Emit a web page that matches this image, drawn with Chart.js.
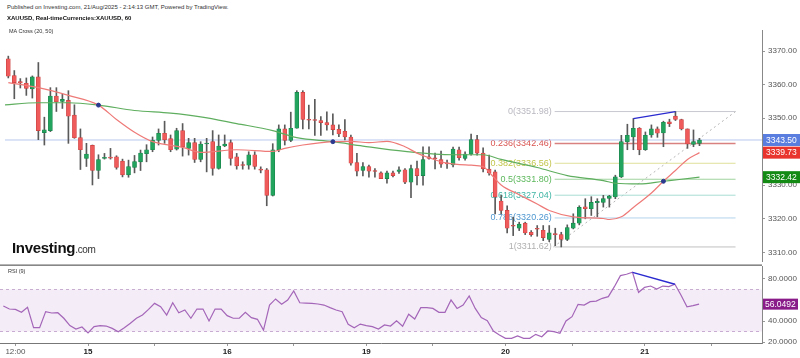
<!DOCTYPE html>
<html>
<head>
<meta charset="utf-8">
<script src="https://cdn.jsdelivr.net/npm/chart.js@4.4.0/dist/chart.umd.min.js"></script>
<style>
  body { margin: 0; width: 800px; height: 358px; background: #fff; position: relative; overflow: hidden; font-family: "Liberation Sans", Arial, sans-serif; }
  .txt { position: absolute; white-space: nowrap; color: #333; line-height: 1; }
  #topBox { position: absolute; left: 0; top: 25px; width: 800px; height: 241px; }
  #botBox { position: absolute; left: 0; top: 266px; width: 800px; height: 92px; }
</style>
</head>
<body>
<div id="topBox"><canvas id="priceChart" width="800" height="241"></canvas></div>
<div id="botBox"><canvas id="rsiChart" width="800" height="92"></canvas></div>
<div class="txt" style="left:7px;top:4px;font-size:6px;">Published on Investing.com, 21/Aug/2025 - 2:14:13 GMT, Powered by TradingView.</div>
<div class="txt" style="left:7px;top:15px;font-size:6px;font-weight:bold;color:#111;">XAUUSD, Real-timeCurrencies:XAUUSD, 60</div>
<div class="txt" style="left:9px;top:29px;font-size:5.5px;">MA Cross (20, 50)</div>
<div class="txt" style="left:12px;top:240px;font-size:15px;font-weight:bold;color:#111;letter-spacing:-0.3px;">Investing<span style="font-size:10px;font-weight:normal;color:#333;">.com</span></div>
<div class="txt" style="left:8px;top:269px;font-size:5.5px;">RSI (9)</div>
<script>
// hourly candles, index 0..115
const opens = [3367.7,3362.7,3360.9,3360.4,3358.7,3362.3,3345.7,3346.3,3356.6,3355.0,
  3355.3,3350.9,3344.2,3338.0,3341.9,3334.4,3338.0,3338.3,3338.5,3337.2,
  3333.1,3335.3,3337.0,3339.4,3340.6,3343.4,3345.5,3343.9,3340.8,3346.3,
  3341.0,3342.7,3337.7,3342.3,3343.0,3335.0,3341.7,3342.7,3338.5,3336.2,
  3336.0,3339.1,3334.8,3334.6,3327.0,3340.6,3346.8,3343.4,3347.0,3357.7,
  3349.6,3349.6,3349.3,3348.7,3348.0,3346.7,3346.1,3344.4,3336.8,3334.4,
  3335.6,3334.3,3333.7,3332.0,3333.7,3334.1,3334.6,3330.9,3335.0,3332.9,
  3338.5,3338.1,3337.7,3336.6,3336.1,3340.6,3338.0,3339.3,3343.6,3339.6,
  3334.8,3334.0,3325.3,3322.5,3318.0,3317.2,3318.7,3316.0,3317.1,3316.6,
  3313.9,3315.6,3315.3,3313.9,3317.2,3318.7,3323.6,3323.0,3324.8,3324.9,
  3326.1,3326.5,3332.5,3343.0,3344.4,3347.0,3340.6,3345.0,3346.8,3345.6,
  3348.9,3350.6,3349.6,3346.8,3342.2,3342.5];
const highs = [3368.5,3364.2,3361.8,3362.0,3362.6,3366.6,3350.3,3359.1,3359.1,3357.2,
  3358.2,3354.0,3346.8,3342.5,3342.0,3339.1,3339.5,3341.0,3338.8,3337.8,
  3337.5,3338.9,3340.5,3342.1,3344.4,3346.8,3349.1,3345.0,3347.0,3348.4,
  3344.0,3344.0,3343.0,3344.0,3346.3,3345.0,3345.0,3343.5,3339.5,3337.0,
  3340.0,3340.0,3335.5,3335.0,3342.4,3348.0,3348.0,3351.8,3358.2,3358.2,
  3353.9,3355.6,3350.5,3351.9,3351.3,3348.0,3349.6,3345.0,3339.5,3336.8,
  3336.0,3335.0,3334.0,3334.2,3334.2,3335.5,3335.0,3336.0,3337.2,3341.5,
  3341.5,3339.6,3340.2,3337.5,3341.4,3341.4,3340.0,3345.3,3344.9,3341.2,
  3339.0,3334.5,3327.0,3323.9,3320.5,3319.0,3319.0,3316.5,3318.0,3318.0,
  3318.0,3317.2,3316.0,3318.2,3321.5,3323.9,3326.0,3326.6,3326.0,3327.0,
  3327.0,3333.0,3344.9,3348.2,3349.9,3347.2,3345.9,3348.0,3347.4,3349.1,
  3349.7,3351.98,3349.7,3346.8,3346.5,3344.0];
const lows = [3362.0,3355.8,3359.0,3356.8,3356.0,3343.6,3342.0,3346.0,3352.0,3352.9,
  3342.5,3344.0,3334.7,3335.6,3330.1,3332.0,3337.8,3337.8,3334.8,3332.5,
  3332.4,3333.7,3334.4,3337.0,3340.0,3342.0,3342.5,3340.0,3340.5,3338.7,
  3339.0,3336.8,3337.0,3334.0,3333.0,3334.8,3341.5,3336.0,3334.8,3334.8,
  3334.8,3334.8,3333.7,3323.9,3326.8,3340.0,3342.0,3343.0,3347.0,3346.8,
  3346.8,3344.9,3344.9,3346.4,3345.0,3344.5,3343.5,3336.0,3332.8,3332.8,
  3332.4,3332.4,3332.0,3330.6,3332.5,3333.5,3330.5,3326.3,3330.1,3330.0,
  3337.8,3334.9,3335.3,3335.0,3335.5,3337.5,3337.5,3339.0,3339.0,3334.0,
  3333.0,3321.5,3321.5,3315.8,3315.0,3316.5,3315.3,3314.8,3314.8,3313.5,
  3313.2,3312.0,3311.62,3313.5,3317.0,3318.2,3320.0,3321.0,3320.6,3323.5,
  3323.5,3326.0,3332.3,3340.6,3340.6,3339.1,3340.4,3344.3,3344.3,3341.5,
  3347.5,3349.3,3346.5,3341.0,3341.5,3341.8];
const closes = [3362.5,3360.6,3360.5,3358.9,3362.3,3346.3,3346.5,3356.6,3354.9,3355.6,
  3350.6,3344.2,3340.6,3339.3,3334.4,3337.7,3338.3,3338.1,3335.3,3333.1,
  3335.6,3337.1,3339.6,3340.6,3343.4,3345.5,3343.6,3340.6,3346.3,3341.5,
  3342.7,3337.7,3342.3,3342.6,3335.0,3341.7,3342.3,3338.0,3335.8,3335.9,
  3339.1,3335.6,3334.5,3327.0,3340.6,3346.8,3343.4,3347.0,3357.7,3349.6,
  3349.4,3349.3,3348.7,3348.0,3346.6,3345.3,3344.4,3336.6,3334.2,3335.6,
  3334.2,3334.1,3332.0,3333.7,3332.9,3334.6,3330.9,3335.0,3332.9,3337.7,
  3338.0,3337.9,3336.3,3336.4,3340.8,3338.2,3339.3,3343.6,3339.6,3334.9,
  3333.7,3326.5,3322.5,3317.2,3317.8,3318.4,3315.8,3315.3,3316.9,3314.4,
  3315.8,3315.3,3313.9,3317.4,3318.7,3323.4,3323.0,3324.9,3325.2,3326.0,
  3326.8,3332.5,3343.0,3344.9,3347.0,3340.6,3344.9,3346.8,3345.5,3348.8,
  3348.4,3349.6,3346.8,3342.3,3343.0,3343.5];

// moving averages read at sample candles
const ma20Idx = [0,5,10,15,18,21,24,26,29,32,38,44,46,49,54,57,60,63,66,68,70,73,77,79,80,82,85,88,90,94,99,100,102,104,107,109,111,113,115];
const ma20 = [3360.6,3359.1,3356.8,3353.9,3349.6,3345.8,3343.0,3342.2,3341.3,3339.8,3340.6,3340.1,3341.0,3342.0,3343.0,3343.1,3342.7,3343.1,3341.5,3339.6,3338.2,3336.6,3336.0,3335.6,3333.9,3330.1,3327.2,3324.4,3322.5,3320.6,3320.1,3319.8,3320.6,3323.4,3327.7,3331.2,3334.4,3337.7,3339.73];
const ma50Idx = [-1,5,10,15,21,27,32,38,44,48,54,59,66,74,79,82,88,93,99,101,105,109,112,115];
const ma50 = [3353.9,3354.6,3354.6,3353.9,3352.3,3351.5,3350.4,3348.4,3346.3,3344.2,3343.0,3341.7,3340.1,3339.1,3339.1,3337.7,3335.3,3332.9,3331.4,3330.6,3330.4,3331.2,3331.8,3332.42];
const crossIdx = [15, 54, 109];
const crossVal = [3353.9, 3343.0, 3331.2];

// fibonacci retracement
const fibRatios = ['0', '0.236', '0.382', '0.5', '0.618', '0.786', '1'];
const fibPrices = [3351.98, 3342.46, 3336.56, 3331.80, 3327.04, 3320.26, 3311.62];
const fibFrom = 90.9, fibTo = 121;

// divergence lines
const divIdx = [104, 111];
const divPrice = [3349.9, 3351.98];
const divRsi = [86.4, 75];

const lastPrice = 3343.50;

const rsi = [54.3,51.4,51.1,48.3,53,33.6,33.6,48.9,47.6,47.9,
  42.6,35.6,32.4,34.3,28.6,34.6,35.6,35.2,33,29.8,
  33.6,37.8,42.6,45.7,51.1,56.8,53.6,45.7,57.4,47.9,
  50.5,42.6,51.4,51.4,40,51.4,51.4,45.1,42.6,42.6,
  48.3,43.2,41.6,31.4,55.2,61,55.9,60,68.6,57.4,
  57.1,56.8,56.2,55.2,52.7,50.5,48.9,36.8,33.6,37.1,
  35.6,34.6,32.4,36.2,35.2,40.3,35,46.4,41.9,52.7,
  52.7,52,48.3,48.3,60,52,55.2,63.8,52,43.2,
  40.3,30.5,26.7,23.5,23.5,25.7,23.5,23.5,27.3,25,
  30.5,29.8,28.3,40,44.1,55.9,55.2,58.4,59,61.6,
  63.2,72.7,83.2,84.5,86.4,67.3,72.1,73.3,70.5,73.3,
  72.7,75,64.8,53.6,54.6,56.0492];

const tickIdx = [2, 14, 25, 37, 48, 60, 71, 83, 94, 106, 117];
const tickText = ['12:00', '15', '', '16', '', '19', '', '20', '', '21', ''];
const priceTicks = [3310, 3320, 3330, 3340, 3350, 3360, 3370];
const rsiTicks = [20, 40, 80];

const X_MIN = -0.55, X_MAX = 125.4;
const FONT = '"Liberation Sans", Arial, sans-serif';
const GREEN = '#22a45e', RED = '#ef5a5a';
const fibColors = ['#b8b8c0', '#d9534f', '#c2c64a', '#5cb85c', '#3fb5a5', '#4f97d0', '#b0b0b0'];
const fibLineColors = ['#c8c8d0', '#d98080', '#dfe09a', '#9fd39f', '#a8ddd4', '#b3d4ec', '#c0c0c0'];

const idx = opens.map((_, i) => i);
const pts = (xs, ys) => xs.map((x, i) => ({ x: x, y: ys[i] }));

function fixAxisWidth(s) {
  s.width = 38;
  s.paddingTop = 0;
  s.paddingBottom = 0;
}

const priceDecor = {
  id: 'priceDecor',
  beforeDatasetsDraw(chart) {
    const ctx = chart.ctx, xs = chart.scales.x, ys = chart.scales.y;
    ctx.save();
    ctx.font = '9px ' + FONT;
    ctx.textAlign = 'right';
    ctx.textBaseline = 'middle';
    fibPrices.forEach((p, i) => {
      ctx.fillStyle = fibColors[i];
      ctx.fillText(fibRatios[i] + '(' + p.toFixed(2) + ')', xs.getPixelForValue(fibFrom) - 3, ys.getPixelForValue(p));
    });
    ctx.restore();
  },
  afterDraw(chart) {
    const ctx = chart.ctx, ys = chart.scales.y;
    const tags = [
      [lastPrice, '#5a7de0'],
      [ma20[ma20.length - 1], '#e8342c'],
      [ma50[ma50.length - 1], '#138a13']
    ];
    ctx.save();
    tags.forEach(t => {
      const y = ys.getPixelForValue(t[0]);
      ctx.fillStyle = t[1];
      ctx.fillRect(763, y - 6, 37, 12);
      ctx.fillStyle = '#fff';
      ctx.font = '8.5px ' + FONT;
      ctx.textBaseline = 'middle';
      ctx.fillText(t[0].toFixed(2), 766, y + 0.5);
    });
    // panel separator
    ctx.fillStyle = '#6a6a6a';
    ctx.fillRect(0, chart.height - 1.5, chart.chartArea.right, 1.3);
    ctx.restore();
  }
};

new Chart(document.getElementById('priceChart'), {
  type: 'bar',
  data: {
    datasets: [
      { type: 'scatter', data: pts(crossIdx, crossVal), pointRadius: 2, backgroundColor: '#2b3a8f', borderColor: '#2b3a8f', order: -1 },
      { type: 'line', data: pts(ma20Idx, ma20), borderColor: '#ee7a78', borderWidth: 1.2, pointRadius: 0, cubicInterpolationMode: 'monotone', order: 0 },
      { type: 'line', data: pts(ma50Idx, ma50), borderColor: '#5fae5f', borderWidth: 1.2, pointRadius: 0, cubicInterpolationMode: 'monotone', order: 0 },
      { type: 'line', data: pts(divIdx, divPrice), borderColor: '#2a2ad0', borderWidth: 1.3, pointRadius: 0, order: 0 },
      {
        data: idx.map(i => ({ x: i, y: [opens[i], closes[i]] })),
        backgroundColor: c => closes[c.dataIndex] >= opens[c.dataIndex] ? GREEN : RED,
        borderColor: c => closes[c.dataIndex] >= opens[c.dataIndex] ? '#178048' : '#c94040',
        borderWidth: 0.6, borderSkipped: false, barThickness: 4, minBarLength: 1, grouped: false, order: 1
      },
      {
        data: idx.map(i => ({ x: i, y: [lows[i], highs[i]] })),
        backgroundColor: '#5a5a5a', barThickness: 1, grouped: false, order: 2
      },
      ...fibPrices.map((p, i) => ({
        type: 'line', data: [{ x: fibFrom, y: p }, { x: fibTo, y: p }],
        borderColor: fibLineColors[i], borderWidth: i === 1 ? 1.5 : 1, pointRadius: 0, order: 5
      })),
      { type: 'line', data: [{ x: fibFrom - 0.2, y: fibPrices[6] }, { x: fibTo, y: fibPrices[0] }], borderColor: '#b5b5b5', borderWidth: 1, borderDash: [2, 3], pointRadius: 0, order: 5 },
      { type: 'line', data: [{ x: X_MIN, y: lastPrice }, { x: X_MAX, y: lastPrice }], borderColor: '#b7c8ee', borderWidth: 1, pointRadius: 0, order: 6 }
    ]
  },
  options: {
    responsive: false,
    animation: false,
    layout: { padding: 0 },
    plugins: { legend: { display: false }, tooltip: { enabled: false } },
    scales: {
      x: { type: 'linear', min: X_MIN, max: X_MAX, offset: false, display: false },
      y: {
        position: 'right', min: 3307.43, max: 3376.29,
        afterBuildTicks: s => { s.ticks = priceTicks.map(v => ({ value: v })); },
        afterFit: fixAxisWidth,
        ticks: { callback: v => Number(v).toFixed(2), color: '#555', font: { size: 8, family: FONT }, padding: 3 },
        grid: { drawOnChartArea: false, tickLength: 3, color: '#999' },
        border: { color: '#888' }
      }
    }
  },
  plugins: [priceDecor]
});

const rsiDecor = {
  id: 'rsiDecor',
  afterDraw(chart) {
    const ctx = chart.ctx, ys = chart.scales.y;
    const v = rsi[rsi.length - 1];
    const y = ys.getPixelForValue(v);
    ctx.save();
    ctx.fillStyle = '#8a1c8a';
    ctx.fillRect(763, y - 5.5, 35, 11);
    ctx.fillStyle = '#fff';
    ctx.font = '8.5px ' + FONT;
    ctx.textBaseline = 'middle';
    ctx.fillText(v.toFixed(4), 765, y + 0.5);
    ctx.restore();
  }
};

new Chart(document.getElementById('rsiChart'), {
  type: 'line',
  data: {
    datasets: [
      { data: pts(divIdx, divRsi), borderColor: '#2a2ad0', borderWidth: 1.3, pointRadius: 0, order: 0 },
      { data: pts(idx, rsi), borderColor: '#a466b8', borderWidth: 1.2, pointRadius: 0, order: 1 },
      { data: [{ x: X_MIN, y: 70 }, { x: X_MAX, y: 70 }], borderColor: '#c8aed0', borderWidth: 1, borderDash: [3, 3], pointRadius: 0, fill: '+1', backgroundColor: 'rgba(205, 170, 220, 0.22)', order: 3 },
      { data: [{ x: X_MIN, y: 30 }, { x: X_MAX, y: 30 }], borderColor: '#c8aed0', borderWidth: 1, borderDash: [3, 3], pointRadius: 0, order: 3 }
    ]
  },
  options: {
    responsive: false,
    animation: false,
    layout: { padding: 0 },
    plugins: { legend: { display: false }, tooltip: { enabled: false } },
    scales: {
      x: {
        type: 'linear', min: X_MIN, max: X_MAX, offset: false,
        afterBuildTicks: s => { s.ticks = tickIdx.map(v => ({ value: v })); },
        afterFit: s => { s.height = 15; s.paddingLeft = 0; s.paddingRight = 0; },
        ticks: {
          autoSkip: false, maxRotation: 0, padding: 1,
          callback: v => tickText[tickIdx.indexOf(v)],
          color: c => (c.tick && c.tick.label === '12:00') ? '#555' : '#222',
          font: c => ({ size: 8, family: FONT, weight: (c.tick && c.tick.label === '12:00') ? 'normal' : 'bold' })
        },
        grid: { drawOnChartArea: false, tickLength: 3, color: '#999' },
        border: { color: '#777' }
      },
      y: {
        position: 'right', min: 19.05, max: 92.38,
        afterBuildTicks: s => { s.ticks = rsiTicks.map(v => ({ value: v })); },
        afterFit: fixAxisWidth,
        ticks: { callback: v => Number(v).toFixed(4), color: '#555', font: { size: 8, family: FONT }, padding: 3 },
        grid: { drawOnChartArea: false, tickLength: 3, color: '#999' },
        border: { color: '#888' }
      }
    }
  },
  plugins: [rsiDecor]
});
</script>
</body>
</html>
